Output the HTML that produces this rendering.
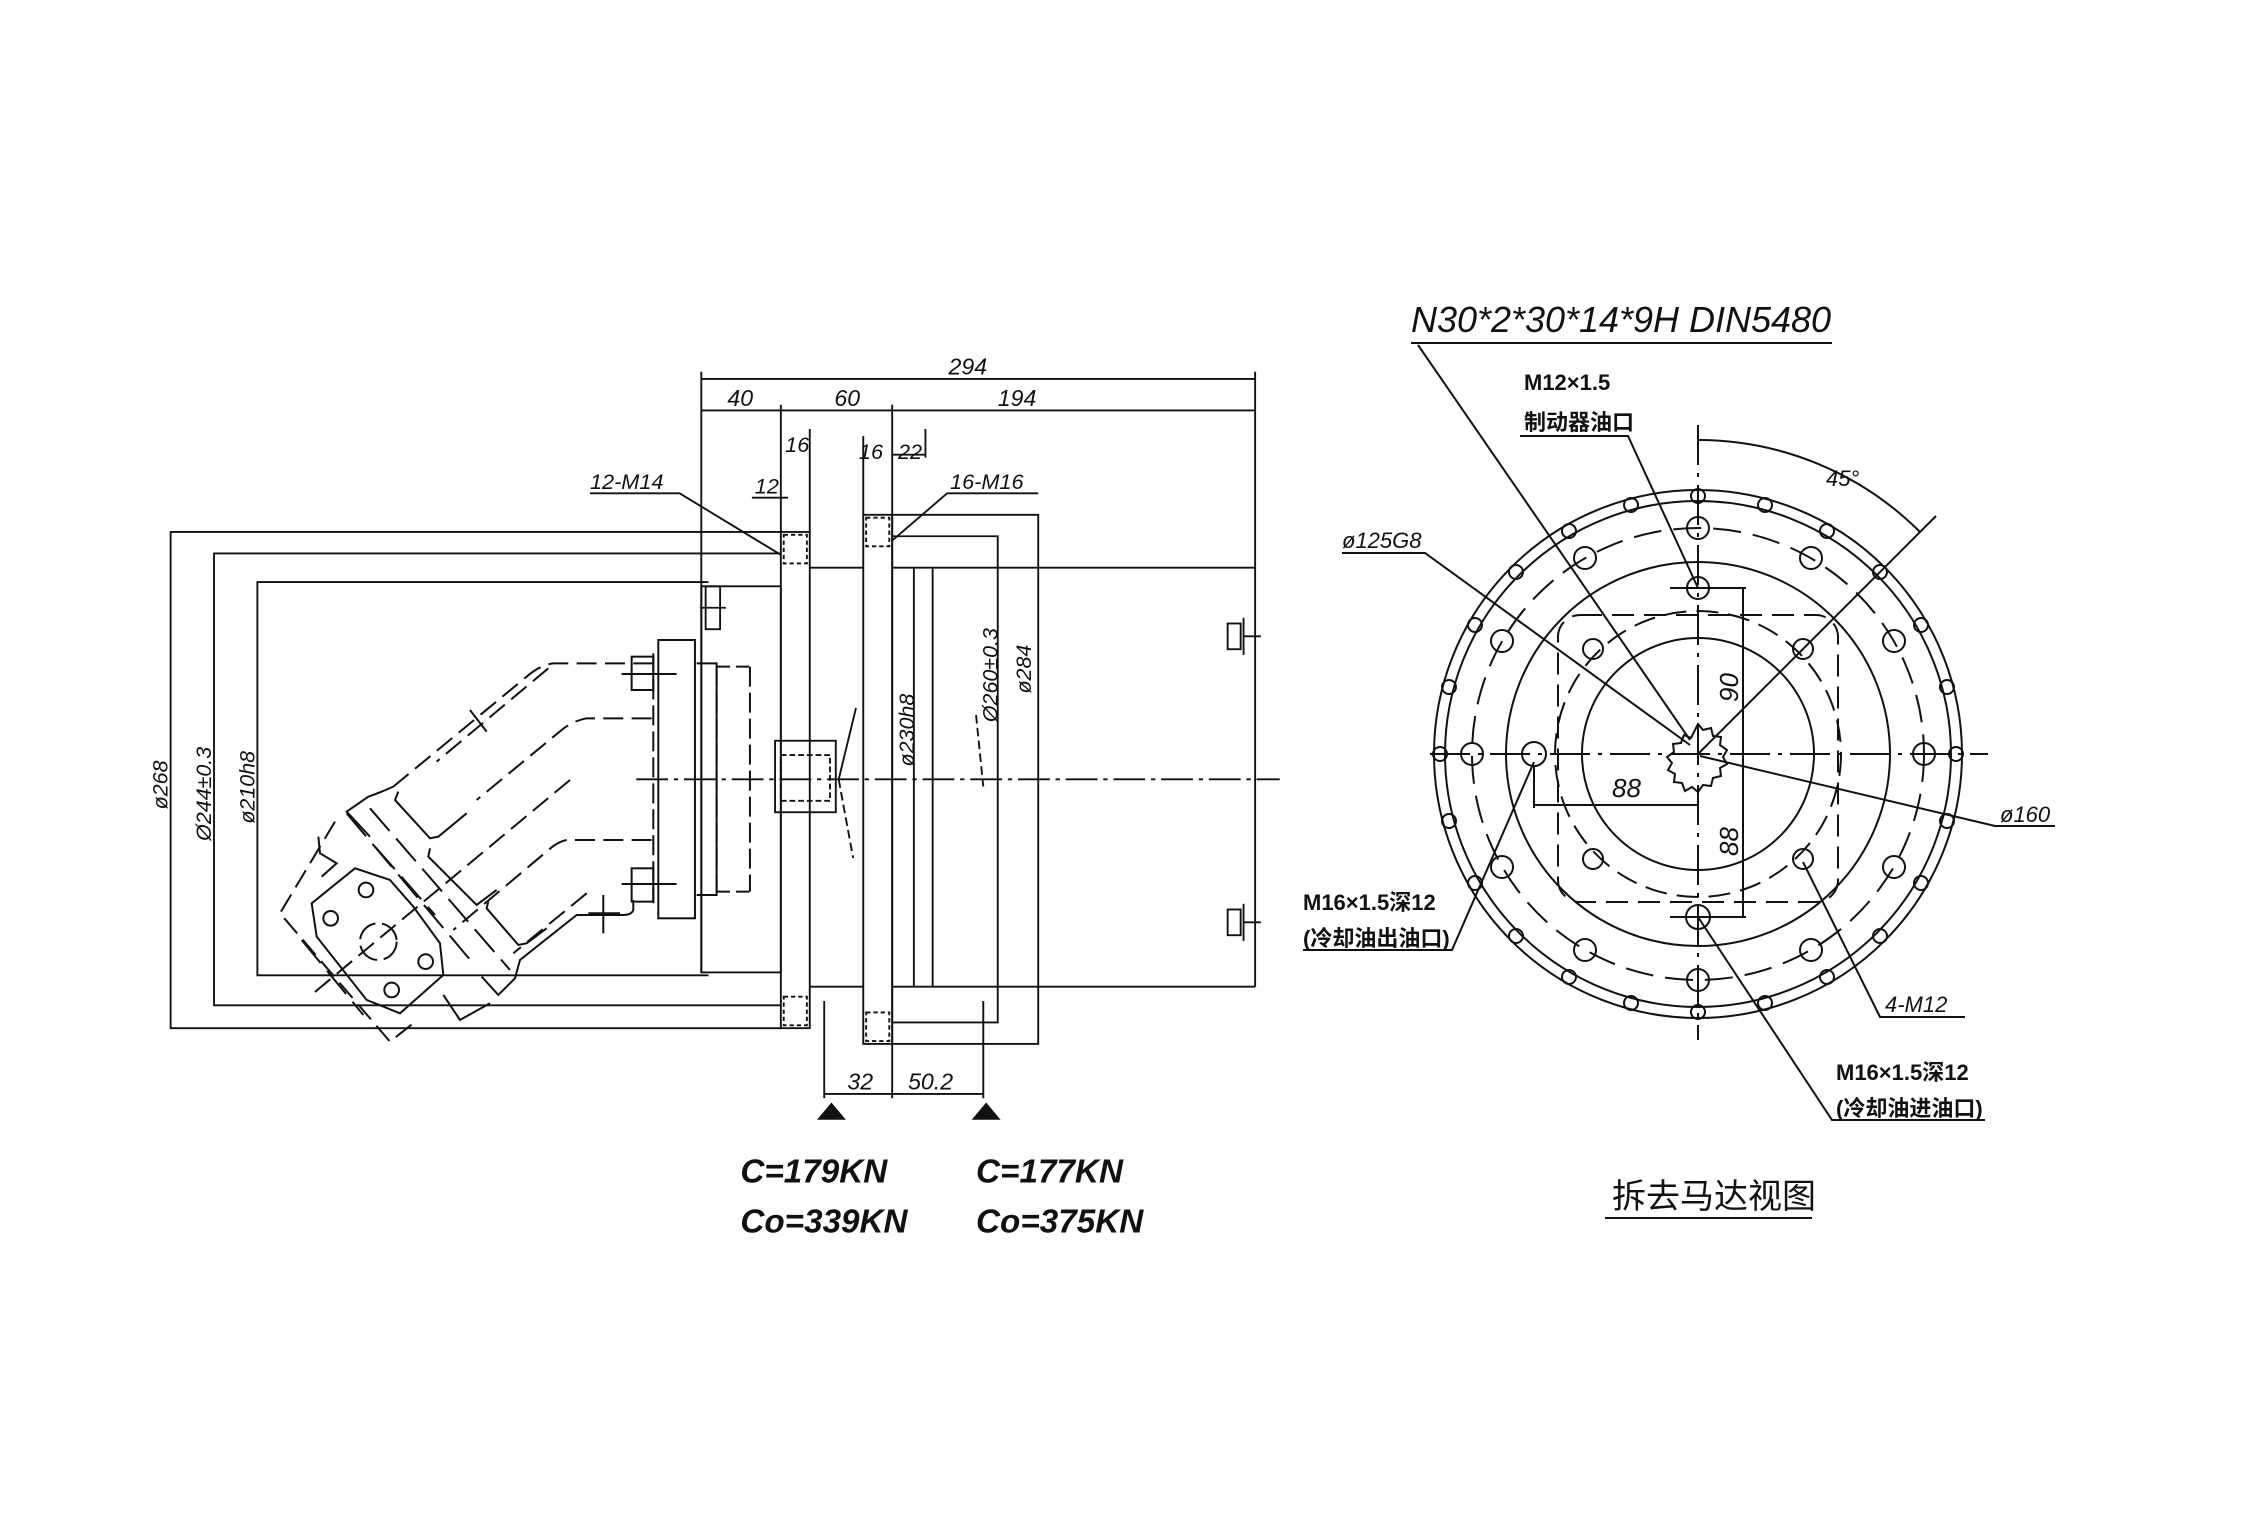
<!DOCTYPE html>
<html><head><meta charset="utf-8"><style>
html,body{margin:0;padding:0;background:#fff;}
svg{display:block;}
text{font-family:"Liberation Sans","Noto Sans CJK SC",sans-serif;fill:#111;}
</style></head><body>
<svg width="2243" height="1536" viewBox="0 0 2243 1536" xmlns="http://www.w3.org/2000/svg">
<rect width="2243" height="1536" fill="#fff"/>

<g transform="scale(1.446,1.43)" fill="none" stroke="#111" stroke-width="1.3">
  <line x1="485" y1="265" x2="868" y2="265"/>
  <line x1="485" y1="287" x2="868" y2="287"/>
  <line x1="485" y1="260" x2="485" y2="680"/>
  <line x1="868" y1="260" x2="868" y2="690"/>
  <line x1="540" y1="283" x2="540" y2="372"/>
  <line x1="617" y1="283" x2="617" y2="360"/>
  <line x1="560" y1="300" x2="560" y2="372"/>
  <line x1="597" y1="305" x2="597" y2="360"/>
  <line x1="640" y1="300" x2="640" y2="320"/>
  <line x1="617" y1="318" x2="640" y2="318"/>
  <line x1="520" y1="348" x2="545" y2="348"/>
  <polyline points="408,345 470,345 540,388"/>
  <polyline points="718,345 655,345 617,378"/>
  <polyline points="540,372 118,372 118,719 540,719"/>
  <polyline points="540,387 148,387 148,703 540,703"/>
  <polyline points="490,407 178,407 178,682 490,682"/>
  <rect x="540" y="372" width="20" height="347"/>
  <rect x="542" y="374" width="16" height="20" stroke-dasharray="3 2"/>
  <rect x="542" y="697" width="16" height="20" stroke-dasharray="3 2"/>
  <rect x="485" y="410" width="55" height="270"/>
  <line x1="560" y1="397" x2="597" y2="397"/>
  <line x1="560" y1="690" x2="597" y2="690"/>
  <rect x="597" y="360" width="20" height="370"/>
  <rect x="599" y="362" width="16" height="20" stroke-dasharray="3 2"/>
  <rect x="599" y="708" width="16" height="20" stroke-dasharray="3 2"/>
  <rect x="617" y="360" width="101" height="370"/>
  <polyline points="617,375 690,375 690,715 617,715"/>
  <line x1="632" y1="397" x2="632" y2="690"/>
  <line x1="645" y1="397" x2="645" y2="690"/>
  <line x1="617" y1="397" x2="868" y2="397"/>
  <line x1="617" y1="690" x2="868" y2="690"/>
  <rect x="849" y="436" width="9" height="18"/><line x1="860" y1="432" x2="860" y2="458"/><line x1="860" y1="445" x2="872" y2="445"/>
  <rect x="849" y="636" width="9" height="18"/><line x1="860" y1="632" x2="860" y2="658"/><line x1="860" y1="645" x2="872" y2="645"/>
  <rect x="488" y="410" width="10" height="30"/><line x1="484" y1="425" x2="502" y2="425"/>
  <rect x="536" y="518" width="42" height="50"/>
  <rect x="540" y="528" width="34" height="32" stroke-dasharray="4 2"/>
  <line x1="592" y1="495" x2="580" y2="545"/><line x1="580" y1="545" x2="590" y2="600" stroke-dasharray="6 3"/>
  <line x1="675" y1="500" x2="680" y2="550" stroke-dasharray="6 3"/>
  <line x1="440" y1="545" x2="885" y2="545" stroke-dasharray="22 4 3 4"/>
  <line x1="570" y1="700" x2="570" y2="768"/>
  <line x1="617" y1="730" x2="617" y2="768"/>
  <line x1="680" y1="700" x2="680" y2="768"/>
  <line x1="570" y1="765" x2="680" y2="765"/>
  <polygon points="575,771 565,783 585,783" fill="#111" stroke="none"/>
  <polygon points="682,771 672,783 692,783" fill="#111" stroke="none"/>
  <g stroke="none" fill="#111" font-style="italic">
    <text x="656" y="262" font-size="16">294</text>
    <text x="503" y="284" font-size="16">40</text>
    <text x="577" y="284" font-size="16">60</text>
    <text x="690" y="284" font-size="16">194</text>
    <text x="543" y="316" font-size="15">16</text>
    <text x="594" y="321" font-size="15">16</text>
    <text x="621" y="321" font-size="15">22</text>
    <text x="522" y="345" font-size="15">12</text>
    <text x="408" y="342" font-size="15">12-M14</text>
    <text x="657" y="342" font-size="15">16-M16</text>
    <text x="586" y="762" font-size="16">32</text>
    <text x="628" y="762" font-size="16">50.2</text>
    <text transform="translate(116,566) rotate(-90)" font-size="15">ø268</text>
    <text transform="translate(146,588) rotate(-90)" font-size="15">Ø244±0.3</text>
    <text transform="translate(176,576) rotate(-90)" font-size="15">ø210h8</text>
    <text transform="translate(632,536) rotate(-90)" font-size="15">ø230h8</text>
    <text transform="translate(690,505) rotate(-90)" font-size="15">Ø260±0.3</text>
    <text transform="translate(713,485) rotate(-90)" font-size="15">ø284</text>
    <g font-size="23" font-weight="bold">
      <text x="512" y="827">C=179KN</text>
      <text x="512" y="862">Co=339KN</text>
      <text x="675" y="827">C=177KN</text>
      <text x="675" y="862">Co=375KN</text>
    </g>
  </g>
</g>

<g transform="matrix(0.3333,0,0,0.3333,280,600)" fill="none" stroke="#111" stroke-width="6">
  <rect x="1135" y="120" width="110" height="835"/>
  <polyline points="1250,190 1310,190 1310,885 1250,885"/>
  <line x1="1310" y1="200" x2="1410" y2="200" stroke-dasharray="40 18"/>
  <line x1="1310" y1="875" x2="1410" y2="875" stroke-dasharray="40 18"/>
  <line x1="1410" y1="200" x2="1410" y2="875" stroke-dasharray="60 18"/>
  <line x1="1310" y1="200" x2="1310" y2="875" stroke-dasharray="60 18"/>
  <line x1="1120" y1="160" x2="1120" y2="910" stroke-dasharray="60 18"/>
  <rect x="1055" y="170" width="65" height="100"/><line x1="1025" y1="222" x2="1190" y2="222"/>
  <rect x="1055" y="805" width="65" height="100"/><line x1="1025" y1="852" x2="1190" y2="852"/>
  <g stroke-dasharray="60 25">
    <path d="M1120,190 L820,190 Q780,195 740,230 L340,560"/>
    <path d="M805,205 L470,485"/>
    <path d="M1115,355 L920,355 Q880,362 845,390 L590,600"/>
    <path d="M870,540 L100,1180"/>
    <path d="M1115,720 L860,720 Q838,724 815,742 L520,990"/>
    <path d="M920,880 L700,1060"/>
    <path d="M165,665 L0,940 L330,1325 L400,1270"/>
  </g>
  <path d="M340,560 Q300,578 265,590 L200,635 L270,710"/>
  <path d="M355,575 L345,600 L450,715 L475,710 L560,640"/>
  <path d="M450,745 L445,770 L590,915 L650,870"/>
  <path d="M625,905 L620,925 L715,1035 L740,1030 L800,985"/>
  <path d="M1060,900 L1060,930 Q1055,945 1030,945 L890,945 L720,1080 L705,1135 L655,1185 L605,1130"/>
  <path d="M490,1185 L540,1260 L630,1210"/>
  <path d="M115,710 L120,760 L170,790 L125,830"/>
  <g stroke-dasharray="90 30">
    <path d="M270,625 L690,1110"/>
    <path d="M200,640 L575,1085"/>
    <path d="M285,740 L465,945"/>
    <path d="M65,1020 L250,1245"/>
  </g>
  <polygon points="225,805 95,910 110,1010 260,1200 360,1240 490,1125 480,1030 400,920 330,840"/>
  <circle cx="258" cy="870" r="22"/><circle cx="152" cy="955" r="22"/><circle cx="437" cy="1085" r="22"/><circle cx="335" cy="1170" r="22"/>
  <circle cx="295" cy="1025" r="55" stroke-dasharray="70 20"/>
  <line x1="970" y1="885" x2="970" y2="1000"/><line x1="925" y1="940" x2="1020" y2="940"/>
  <line x1="570" y1="330" x2="620" y2="395"/>
</g>

<g fill="none" stroke="#111" stroke-width="2">
  <circle cx="1698" cy="754" r="264"/>
  <circle cx="1698" cy="754" r="253"/>
  <circle cx="1698" cy="754" r="226" stroke-dasharray="28 12"/>
  <circle cx="1698" cy="754" r="192"/>
  <circle cx="1698" cy="754" r="143" stroke-dasharray="22 10"/>
  <circle cx="1698" cy="754" r="116"/>
  <rect x="1558" y="615" width="280" height="287" rx="22" stroke-dasharray="22 10"/>
  <line x1="1430" y1="754" x2="1988" y2="754" stroke-dasharray="40 8 4 8"/>
  <line x1="1698" y1="425" x2="1698" y2="1040" stroke-dasharray="40 8 4 8"/>
  <g>
    <circle cx="1698" cy="528" r="11"/><circle cx="1811" cy="558" r="11"/><circle cx="1894" cy="641" r="11"/>
    <circle cx="1924" cy="754" r="11"/><circle cx="1894" cy="867" r="11"/><circle cx="1811" cy="950" r="11"/>
    <circle cx="1698" cy="980" r="11"/><circle cx="1585" cy="950" r="11"/><circle cx="1502" cy="867" r="11"/>
    <circle cx="1472" cy="754" r="11"/><circle cx="1502" cy="641" r="11"/><circle cx="1585" cy="558" r="11"/>
  </g>
  <g>
    <circle cx="1698" cy="496" r="7"/><circle cx="1765" cy="505" r="7"/><circle cx="1827" cy="531" r="7"/><circle cx="1880" cy="572" r="7"/>
    <circle cx="1921" cy="625" r="7"/><circle cx="1947" cy="687" r="7"/><circle cx="1956" cy="754" r="7"/><circle cx="1947" cy="821" r="7"/>
    <circle cx="1921" cy="883" r="7"/><circle cx="1880" cy="936" r="7"/><circle cx="1827" cy="977" r="7"/><circle cx="1765" cy="1003" r="7"/>
    <circle cx="1698" cy="1012" r="7"/><circle cx="1631" cy="1003" r="7"/><circle cx="1569" cy="977" r="7"/><circle cx="1516" cy="936" r="7"/>
    <circle cx="1475" cy="883" r="7"/><circle cx="1449" cy="821" r="7"/><circle cx="1440" cy="754" r="7"/><circle cx="1449" cy="687" r="7"/>
    <circle cx="1475" cy="625" r="7"/><circle cx="1516" cy="572" r="7"/><circle cx="1569" cy="531" r="7"/><circle cx="1631" cy="505" r="7"/>
  </g>
  <circle cx="1593" cy="649" r="10"/><circle cx="1803" cy="649" r="10"/><circle cx="1593" cy="859" r="10"/><circle cx="1803" cy="859" r="10"/>
  <circle cx="1698" cy="588" r="11"/><circle cx="1698" cy="917" r="12"/><circle cx="1534" cy="754" r="12"/>
  <line x1="1670" y1="588" x2="1726" y2="588"/><line x1="1670" y1="917" x2="1726" y2="917"/>
  <path d="M1698,724 l5,6 8,-2 2,8 8,1 -1,8 7,5 -4,7 4,7 -7,4 1,8 -8,2 -2,8 -8,-1 -5,7 -6,-5 -7,4 -3,-8 -8,-1 1,-8 -7,-4 4,-7 -5,-6 7,-5 -1,-8 8,-1 3,-8 7,3 z"/>
  <line x1="1534" y1="766" x2="1534" y2="808"/>
  <line x1="1534" y1="805" x2="1698" y2="805"/>
  <line x1="1743" y1="588" x2="1743" y2="917"/>
  <line x1="1698" y1="588" x2="1746" y2="588"/><line x1="1698" y1="917" x2="1746" y2="917"/>
  <path d="M1698,440 A314,314 0 0 1 1920,532"/>
  <line x1="1698" y1="754" x2="1936" y2="516"/>
  <line x1="1698" y1="430" x2="1698" y2="460"/>
  <polyline points="1411,343 1832,343"/>
  <line x1="1418" y1="345" x2="1690" y2="740"/>
  <polyline points="1520,436 1628,436 1698,588"/>
  <polyline points="1342,553 1425,553 1690,745"/>
  <polyline points="2055,826 1995,826 1700,756"/>
  <polyline points="1303,950 1452,950 1534,762"/>
  <polyline points="1965,1017 1880,1017 1803,862"/>
  <polyline points="1985,1120 1832,1120 1698,917"/>
  <line x1="1605" y1="1218" x2="1812" y2="1218"/>
  <g stroke="none" fill="#111">
    <text x="1411" y="332" font-size="36" font-style="italic" textLength="420">N30*2*30*14*9H  DIN5480</text>
    <text x="1524" y="390" font-size="22" font-weight="bold">M12×1.5</text>
    <text x="1524" y="430" font-size="22" font-weight="bold">制动器油口</text>
    <text x="1826" y="486" font-size="22" font-style="italic">45°</text>
    <text x="1342" y="548" font-size="22" font-style="italic">ø125G8</text>
    <text x="2000" y="822" font-size="22" font-style="italic">ø160</text>
    <text x="1303" y="910" font-size="22" font-weight="bold">M16×1.5深12</text>
    <text x="1303" y="946" font-size="22" font-weight="bold">(冷却油出油口)</text>
    <text x="1885" y="1012" font-size="22" font-style="italic">4-M12</text>
    <text x="1836" y="1080" font-size="22" font-weight="bold">M16×1.5深12</text>
    <text x="1836" y="1116" font-size="22" font-weight="bold">(冷却油进油口)</text>
    <text x="1612" y="797" font-size="26" font-style="italic">88</text>
    <text transform="translate(1738,702) rotate(-90)" font-size="26" font-style="italic">90</text>
    <text transform="translate(1738,856) rotate(-90)" font-size="26" font-style="italic">88</text>
    <text x="1612" y="1208" font-size="34" font-family="Noto Serif CJK SC, serif">拆去马达视图</text>
  </g>
</g>
</svg>
</body></html>
